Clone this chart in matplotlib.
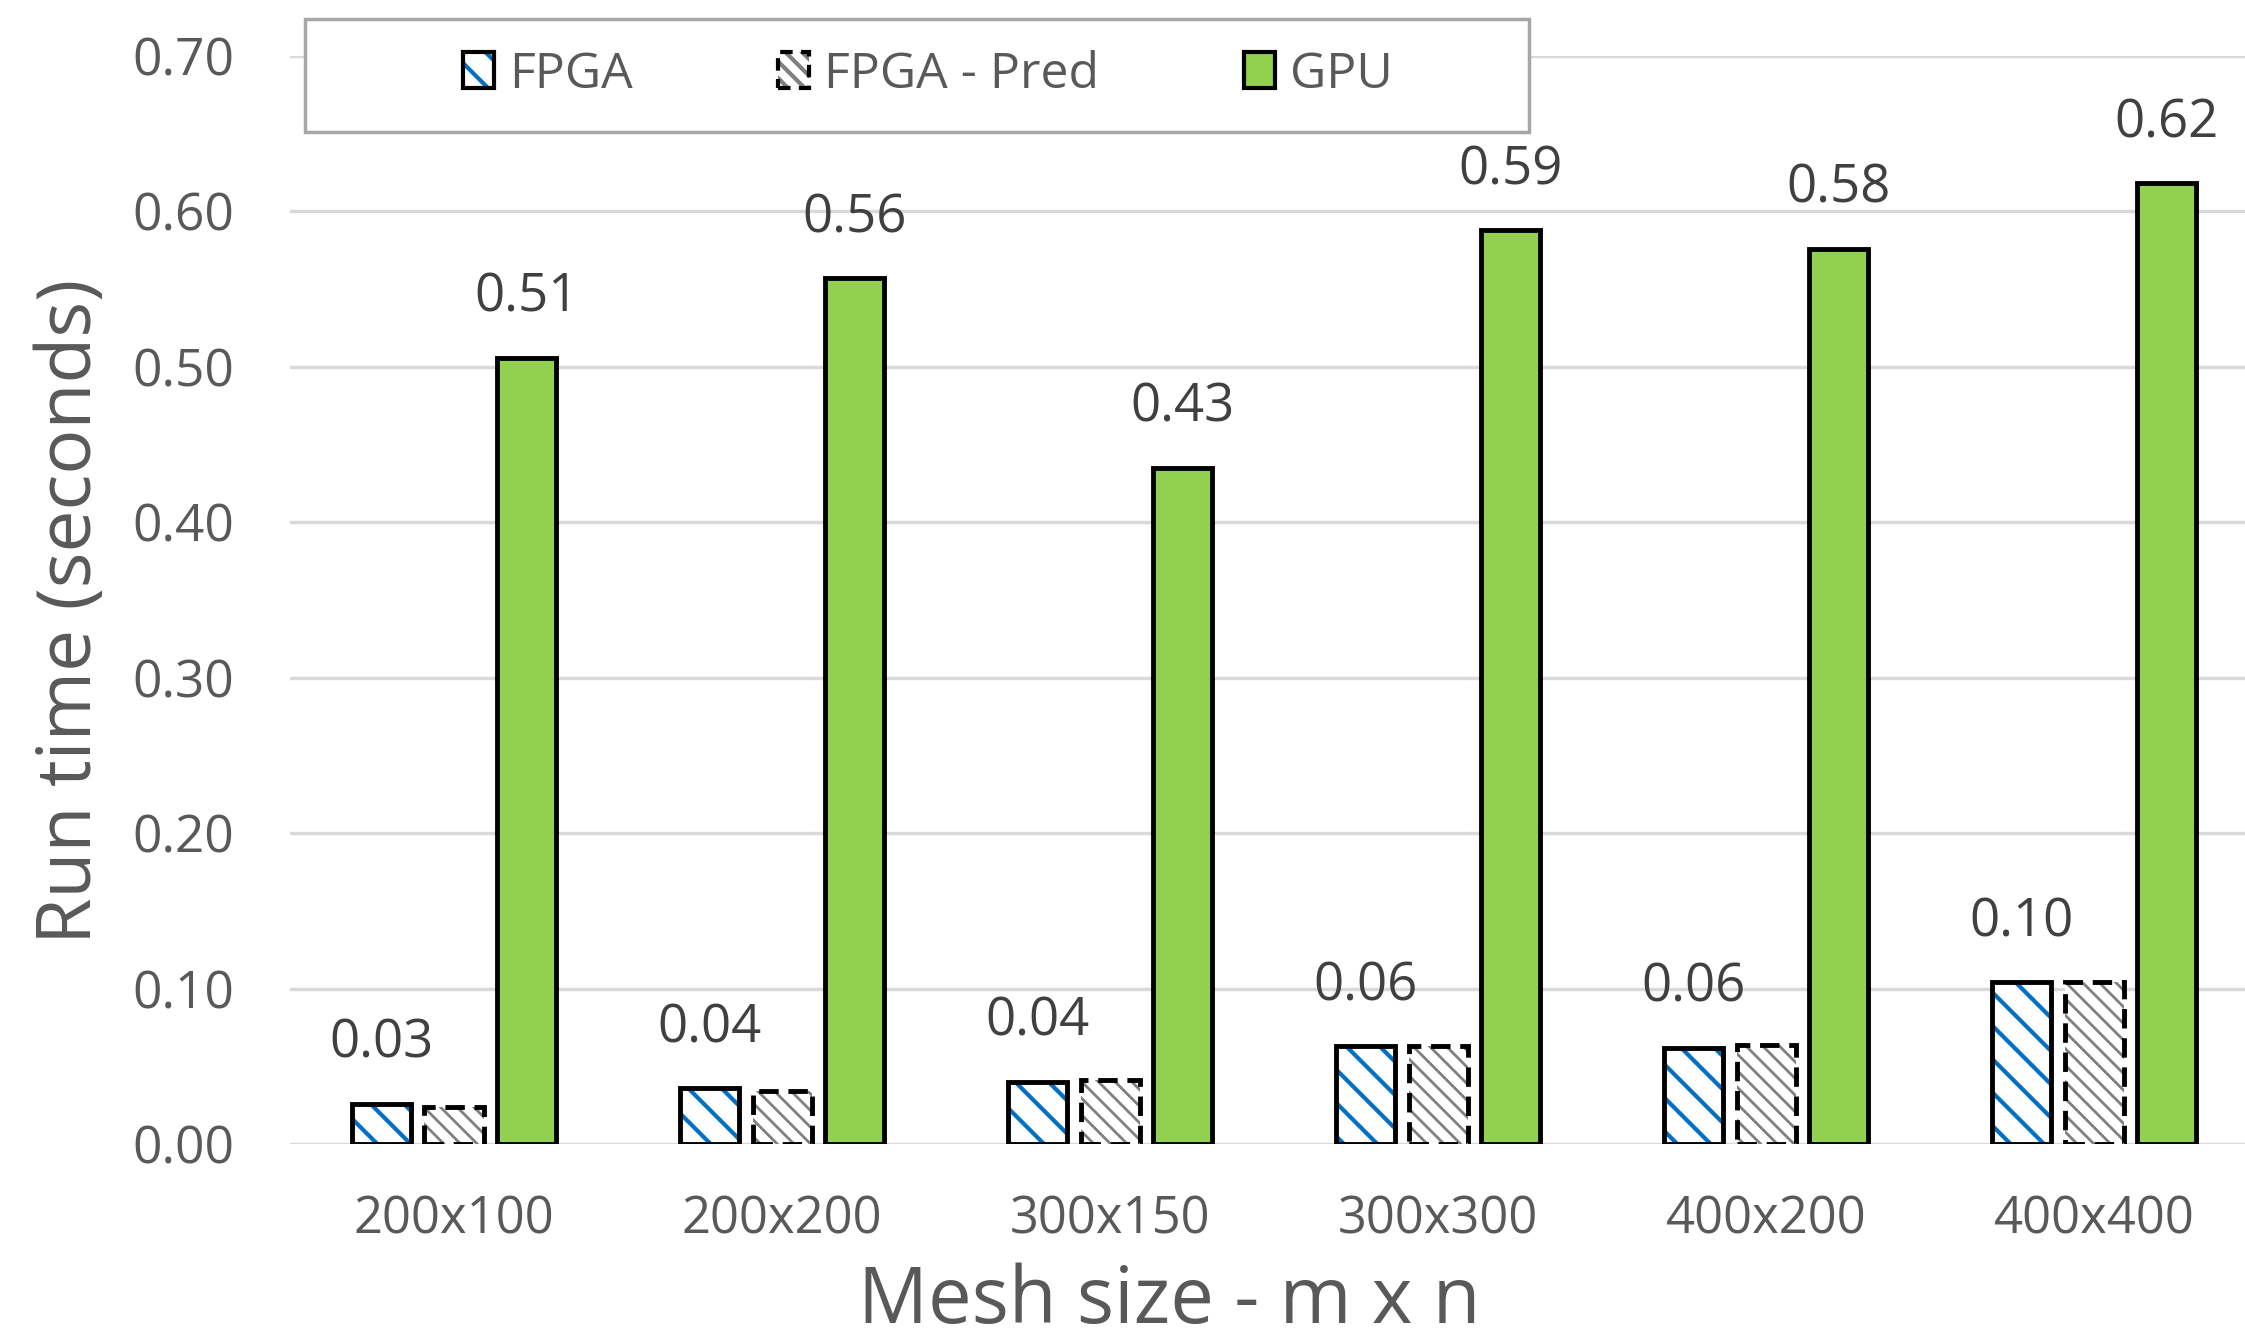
import matplotlib
matplotlib.use('Agg')
import numpy as np
import matplotlib.pyplot as plt
from matplotlib.patches import Patch, Rectangle
from matplotlib.legend_handler import HandlerTuple

plt.rcParams['font.family'] = ['Open Sans', 'DejaVu Sans']
plt.rcParams['hatch.linewidth'] = 3.0

# run times in seconds
meshes = ['200x100', '200x200', '300x150', '300x300', '400x200', '400x400']
fpga = [0.026, 0.036, 0.040, 0.063, 0.062, 0.104]
fpga_pred = [0.024, 0.034, 0.041, 0.063, 0.064, 0.104]
gpu = [0.506, 0.557, 0.435, 0.588, 0.576, 0.618]

blue = '#0070C0'
grey = '#808080'
green = '#92D050'
txt = '#595959'


def thin_hatch(patches, lw):
    # per-patch hatch width, only where this matplotlib has it
    for p in patches:
        if hasattr(p, 'set_hatch_linewidth'):
            p.set_hatch_linewidth(lw)


fig = plt.figure(figsize=(22.45, 13.43), dpi=100)
ax = fig.add_axes([290 / 2245, 1 - 1144 / 1343, 1 - 290 / 2245, 1088 / 1343])

x = np.arange(len(meshes))
w = 0.18
off = 0.22
lw = 3.5

# hatch colour follows edgecolor, so the outline goes on a second bar
ax.bar(x - off, fpga, w, color='white', edgecolor=blue, hatch='\\', linewidth=0, zorder=2)
ax.bar(x - off, fpga, w, color='none', edgecolor='black', linewidth=lw, zorder=3)
b = ax.bar(x, fpga_pred, w, color='white', edgecolor=grey, hatch='\\\\', linewidth=0, zorder=2)
thin_hatch(b, 2.0)
ax.bar(x, fpga_pred, w, color='none', edgecolor='black', linewidth=lw,
       linestyle=(0, (4, 2)), zorder=3)
ax.bar(x + off, gpu, w, color=green, edgecolor='black', linewidth=lw, zorder=3)

for i in range(len(meshes)):
    ax.annotate('%.2f' % fpga[i], (x[i] - off, fpga[i]), xytext=(0, 43), textcoords='offset points',
                ha='center', va='center', fontsize=38, color='#404040', annotation_clip=False)
    ax.annotate('%.2f' % gpu[i], (x[i] + off, gpu[i]), xytext=(0, 43), textcoords='offset points',
                ha='center', va='center', fontsize=38, color='#404040', annotation_clip=False)

ax.set_xlim(-0.5, 5.46)
ax.set_ylim(0, 0.7)
ax.set_yticks(np.arange(0, 0.71, 0.1))
ax.set_yticklabels(['%.2f' % v for v in np.arange(0, 0.71, 0.1)])
ax.set_xticks(x)
ax.set_xticklabels(meshes)
ax.tick_params(axis='y', length=0, labelsize=37, colors=txt, pad=40)
ax.tick_params(axis='x', length=0, labelsize=36.5, colors=txt, pad=36)
ax.yaxis.grid(True, color='#D9D9D9', linewidth=2.5)
ax.set_axisbelow(True)
for s in ax.spines.values():
    s.set_visible(False)

fig.text(72 / 2245, 0.545, 'Run time (seconds)', rotation=90, ha='center', va='center',
         fontsize=54, color=txt)
fig.text(0.521, 0.030, 'Mesh size - m x n', ha='center', va='center', fontsize=56, color=txt)

# legend box
fig.add_artist(Rectangle((305 / 2245, 1 - 132 / 1343), 1224 / 2245, 113 / 1343,
                         transform=fig.transFigure, facecolor='white', edgecolor='#A6A6A6',
                         linewidth=2.5, zorder=4))

h1a = Patch(facecolor='white', edgecolor=blue, hatch='\\', linewidth=0)
h2a = Patch(facecolor='white', edgecolor=grey, hatch='\\\\', linewidth=0)
thin_hatch([h2a], 2.0)
h1 = (h1a, Patch(facecolor='none', edgecolor='black', linewidth=3))
h2 = (h2a, Patch(facecolor='none', edgecolor='black', linewidth=3, linestyle=(0, (3, 2))))
h3 = Patch(facecolor=green, edgecolor='black', linewidth=3)
fig.legend([h1, h2, h3], ['FPGA', 'FPGA - Pred', 'GPU'], ncol=3, loc='center',
           bbox_to_anchor=(928 / 2245, 1 - 75 / 1343), frameon=False, fontsize=36,
           labelcolor=txt, handlelength=0.62, handleheight=0.72, handletextpad=0.3,
           columnspacing=2.9, handler_map={tuple: HandlerTuple(ndivide=1)})

fig.savefig('out.png', dpi=100)
